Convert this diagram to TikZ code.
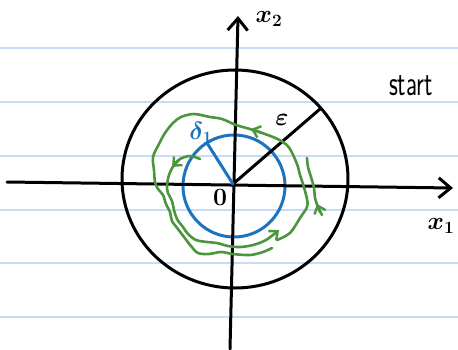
\documentclass[tikz,border=0pt]{standalone}
\usetikzlibrary{arrows.meta}
\definecolor{ruled}{RGB}{200,220,250}
\definecolor{pblue}{RGB}{30,115,190}
\definecolor{pgreen}{RGB}{75,150,60}
\tikzset{
  axis/.style={line width=3pt, line cap=round, -{Straight Barb[length=12pt,width=20pt,line width=3pt]}},
  ink/.style={line width=3pt, line cap=round},
  bink/.style={line width=3pt, pblue, line cap=round},
  gink/.style={line width=2.6pt, pgreen, line cap=round, line join=round},
  gtip/.style={-{Straight Barb[length=7pt,width=12pt,line width=2.4pt]}},
  lbl/.style={inner sep=0pt, font=\fontsize{27}{29}\selectfont\boldmath}
}
\begin{document}
\begin{tikzpicture}[x=1pt,y=-1pt]
\useasboundingbox (0,0) rectangle (458,349);
\fill[white] (0,0) rectangle (458,349);
% ruled lines
\foreach \yy in {48,102,156,210,263,317}
  \draw[ruled, line width=1.6pt] (0,\yy) -- (458,\yy);
% outer circle
\draw[ink] (235,179) ellipse [x radius=113, y radius=109];
% blue circle
\draw[bink] (234,186) circle [radius=51];
% axes
\coordinate (O) at (233,184);
\coordinate (xl) at (7,182);
\coordinate (xr) at (453,188);
\coordinate (yb) at (230,349);
\coordinate (yt) at (238,16);
\draw[axis] (xl) -- (xr);
\draw[axis] (yb) -- (yt);
% radii
\coordinate (E) at (320,109);
\coordinate (D) at (207,143);
\draw[ink] (O) -- (E);
\draw[bink] (O) -- (D);
% green outer loop
\draw[gink] plot[smooth, tension=0.55] coordinates {
 (277,240) (290,233) (300,218) (307,207) (307,199) (303,184) (300,175) (297,164)
 (290,149) (283,142) (273,137) (262,133) (250,129) (236,125) (222,119) (210,117)
 (194,114) (181,117) (173,123) (165,133) (159,144) (153,157) (154,170) (155,182)
 (158,189) (163,195) (166,204) (170,212) (172,221) (178,229) (184,237) (191,246)
 (198,253) (209,254) (221,252) (233,254) (250,255) (263,252) (272,248)};
\coordinate (a1s) at (261,132.5);
\coordinate (a1e) at (251,129);
\draw[gink, gtip] (a1s) -- (a1e);
% green inner loop
\draw[gink, gtip] plot[smooth, tension=0.55] coordinates {
 (200,159) (190,156) (180,159) (174,165) (169,175) (167,186) (168,193) (172,201)
 (174,210) (177,219) (183,227) (188,234) (196,240) (207,242) (217,243) (228,246)
 (240,247) (253,245) (266,240) (279,230)};
\coordinate (a2s) at (179,160);
\coordinate (a2e) at (172,167);
\draw[gink, gtip] (a2s) -- (a2e);
% green right strand
\draw[gink] plot[smooth, tension=0.55] coordinates {
 (322,215) (318,207) (315,198) (314,188) (311,177) (308,167) (307,158)};
\coordinate (a3s) at (320,212);
\coordinate (a3e) at (317,204);
\draw[gink, gtip] (a3s) -- (a3e);
% labels
\node[lbl] (lx2) at (269,19) {$x_2$};
\node[lbl] (lx1) at (441,226) {$x_1$};
\node[lbl] (leps) at (282,120) {$\varepsilon$};
\node[lbl, text=pblue] (ldel) at (201,133) {$\delta_1$};
\node[lbl, font=\fontsize{24}{26}\selectfont\boldmath] (lzero) at (220,197) {$0$};
\node[inner sep=0pt, font=\sffamily\fontsize{36}{38}\selectfont] (lstart) at (411,86) {\scalebox{0.68}[1]{start}};
\end{tikzpicture}
\end{document}
